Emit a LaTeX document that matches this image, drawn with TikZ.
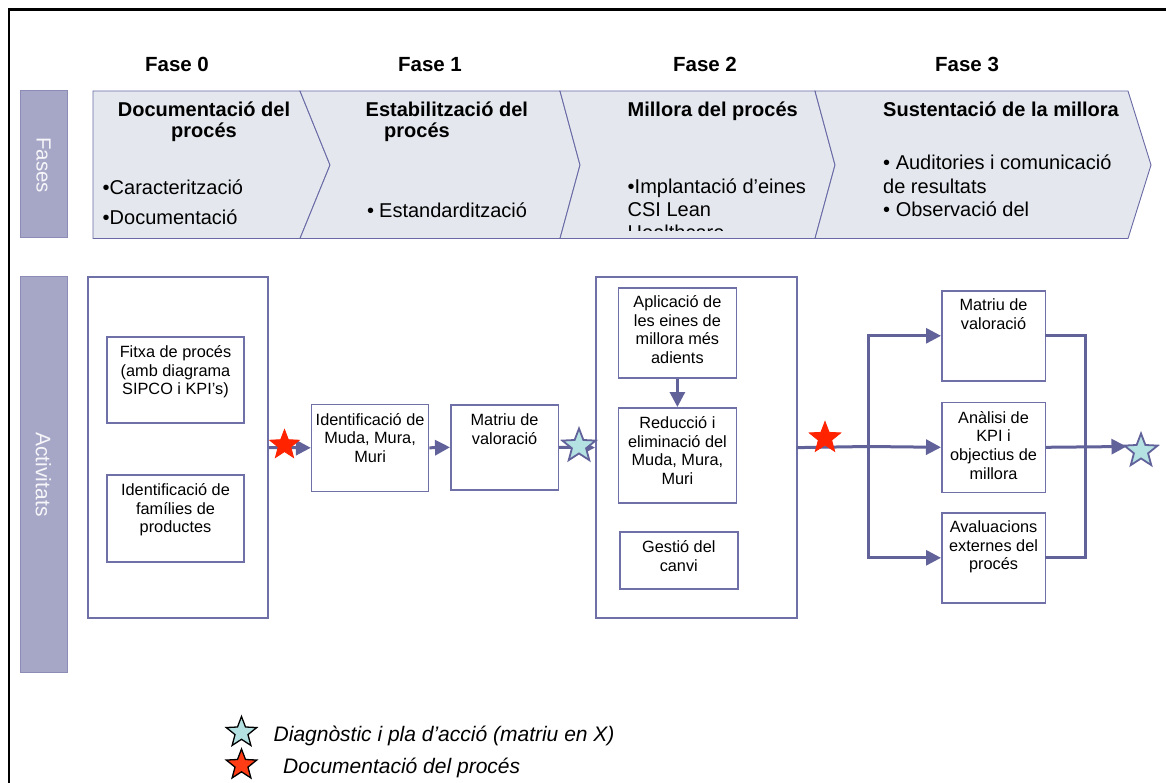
\documentclass[tikz,border=0pt]{standalone}
\usepackage{fontspec}
\setmainfont{Liberation Sans}
\usetikzlibrary{arrows.meta,shapes.geometric}
\definecolor{chevfill}{RGB}{228,232,238}
\definecolor{chevline}{RGB}{105,105,165}
\definecolor{lineblue}{RGB}{98,98,155}
\definecolor{boxline}{RGB}{112,112,168}
\definecolor{barfill}{RGB}{166,166,198}
\definecolor{barline}{RGB}{140,140,182}
\definecolor{bartext}{RGB}{246,246,250}
\definecolor{starblue}{RGB}{180,225,226}
\definecolor{starred}{RGB}{255,35,0}
\definecolor{legred}{RGB}{255,60,20}
\begin{document}
\begin{tikzpicture}[x=1pt,y=-1pt,
  box/.style={draw=boxline, line width=1.6pt, fill=white, inner sep=0pt, anchor=north west},
  bigbox/.style={draw=boxline, line width=2.2pt, inner sep=0pt, anchor=north west},
  btext/.style={font=\fontsize{16.3}{18.6}\selectfont, align=center, inner sep=0pt, anchor=north},
  chev/.style={draw=chevline, line width=0.9pt, fill=chevfill},
  bar/.style={draw=barline, line width=1pt, fill=barfill},
  bartxt/.style={rotate=-90, text=bartext, inner sep=0pt},
  fasetxt/.style={font=\fontsize{20.5}{24}\selectfont\bfseries, anchor=base, inner sep=0pt},
  titletxt/.style={font=\fontsize{20}{24}\selectfont\bfseries, anchor=base west, inner sep=0pt},
  bultxt/.style={font=\fontsize{20}{24}\selectfont, anchor=base west, inner sep=0pt},
  conn/.style={draw=lineblue, line width=3pt, line cap=rect},
  arr/.style={draw=lineblue, line width=3pt, -{Triangle[length=15pt,width=15pt]}},
  bluestar/.style={star, star points=5, star point ratio=2.35, minimum size=35pt, inner sep=0pt, fill=starblue, draw=lineblue, line width=1.8pt},
  redstar/.style={star, star points=5, star point ratio=2.35, minimum size=31pt, inner sep=0pt, fill=starred, draw=starred, line width=0.8pt},
  legtxt/.style={font=\fontsize{21}{24}\selectfont\itshape, anchor=base west, inner sep=0pt}
]
\useasboundingbox (0,0) rectangle (1166,783);
\fill[white] (0,0) rectangle (1166,783);
% outer frame (cut by the page)
\draw[line width=2.6pt] (9,800) -- (9,9.5) -- (1180,9.5);

% phase headings
\node[fasetxt] (f0) at (177,72) {Fase 0};
\node[fasetxt] (f1) at (430,72) {Fase 1};
\node[fasetxt] (f2) at (705,72) {Fase 2};
\node[fasetxt] (f3) at (967,72) {Fase 3};

% side bars
\draw[bar] (20,91) rectangle (67,238);
\node[bartxt, font=\fontsize{20.5}{24}\selectfont] (fases) at (43.5,165) {Fases};
\draw[bar] (20,277) rectangle (67,672);
\node[bartxt, font=\fontsize{21}{24}\selectfont] (activ) at (43.5,474.5) {Activitats};

% chevrons
\draw[chev] (93,91) -- (300,91) -- (330,165) -- (300,238.5) -- (93,238.5) -- cycle;
\draw[chev] (300,91) -- (560,91) -- (580,165) -- (560,238.5) -- (300,238.5) -- (330,165) -- cycle;
\draw[chev] (560,91) -- (815,91) -- (835,165) -- (815,238.5) -- (560,238.5) -- (580,165) -- cycle;
\draw[chev] (815,91) -- (1128,91) -- (1151,165) -- (1128,238.5) -- (815,238.5) -- (835,165) -- cycle;

% chevron titles
\node[titletxt, anchor=base] (t0a) at (204,117) {Documentació del};
\node[titletxt, anchor=base] (t0b) at (204,138) {procés};
\node[titletxt] (t1a) at (365.5,117) {Estabilització del};
\node[titletxt] (t1b) at (384,138) {procés};
\node[titletxt] (t2) at (627.5,117) {Millora del procés};
\node[titletxt] (t3) at (883,117) {Sustentació de la millora};

% chevron bullets (clipped at the bottom like the text boxes)
\begin{scope}
\clip (90,91) rectangle (1160,231);
\node[bultxt] (b0a) at (102.5,195) {•Caracterització};
\node[bultxt] (b0b) at (102.5,225) {•Documentació};
\node[bultxt] (b1a) at (367,218) {•\hspace{5pt}Estandardització};
\node[bultxt] (b2a) at (627.5,194) {•Implantació d’eines};
\node[bultxt] (b2b) at (627.5,216.5) {CSI Lean};
\node[bultxt] (b2c) at (627.5,240) {Healthcare};
\node[bultxt] (b3a) at (883,170) {• Auditories i comunicació};
\node[bultxt] (b3b) at (883,193.5) {de resultats};
\node[bultxt] (b3c) at (883,216.5) {• Observació del};
\end{scope}

% activity boxes
\node[bigbox, minimum width=180.2pt, minimum height=341pt] (big1) at (86.5,276) {};
\node[box, minimum width=137.4pt, minimum height=86pt] (fitxa) at (106,336) {};
\node[btext] at ([yshift=-8.5pt]fitxa.north) {\rule{0pt}{13pt}Fitxa de procés\\(amb diagrama\\SIPCO i KPI’s)};
\node[box, minimum width=137.4pt, minimum height=87pt] (fam) at (106,474) {};
\node[btext] at ([yshift=-8.5pt]fam.north) {\rule{0pt}{13pt}Identificació de\\famílies de\\productes};

\node[box, minimum width=117pt, minimum height=87pt] (muda) at (310.8,403.5) {};
\node[btext] at ([yshift=-8.5pt]muda.north) {\rule{0pt}{13pt}Identificació de\\Muda, Mura,\\Muri};
\node[box, minimum width=107.6pt, minimum height=85pt] (mat1) at (450,404) {};
\node[btext] at ([yshift=-8.5pt]mat1.north) {\rule{0pt}{13pt}Matriu de\\valoració};

\node[bigbox, minimum width=201pt, minimum height=341pt] (big2) at (595,276) {};
\node[box, minimum width=117.8pt, minimum height=90pt] (aplic) at (617.7,287) {};
\node[btext] at ([yshift=-7.5pt]aplic.north) {\rule{0pt}{13pt}Aplicació de\\les eines de\\millora més\\adients};
\node[box, minimum width=117.8pt, minimum height=95pt] (reduc) at (617.7,407) {};
\node[btext] at ([yshift=-8.5pt]reduc.north) {\rule{0pt}{13pt}Reducció i\\eliminació del\\Muda, Mura,\\Muri};
\node[box, minimum width=118pt, minimum height=57pt] (gestio) at (619,531) {};
\node[btext] at ([yshift=-8.5pt]gestio.north) {\rule{0pt}{13pt}Gestió del\\canvi};

\node[box, minimum width=103.5pt, minimum height=90pt] (mat2) at (941,290) {};
\node[btext] at ([yshift=-7.5pt]mat2.north) {\rule{0pt}{13pt}Matriu de\\valoració};
\node[box, minimum width=103.5pt, minimum height=90pt] (anal) at (941,401.5) {};
\node[btext] at ([yshift=-8.5pt]anal.north) {\rule{0pt}{13pt}Anàlisi de\\KPI i\\objectius de\\millora};
\node[box, minimum width=103.5pt, minimum height=90pt] (aval) at (941,512) {};
\node[btext] at ([yshift=-7.5pt]aval.north) {\rule{0pt}{13pt}Avaluacions\\externes del\\procés};

% connectors
\draw[arr] (big1.east) -- (muda.west);
\draw[arr] (muda.east) -- (mat1.west);
\draw[arr] (mat1.east) -- (big2.west);
\draw[arr] (aplic.south) -- (reduc.north);
\coordinate (split) at (868,446.5);
\coordinate (merge) at (1085.5,446.5);
\coordinate (endpt) at (1126.5,446.5);
\draw[conn] (big2.east) -- (split);
\draw[conn] (split |- mat2.west) -- (split |- aval.west);
\draw[arr] (split) -- (anal.west);
\draw[arr] (split |- mat2.west) -- (mat2.west);
\draw[arr] (split |- aval.west) -- (aval.west);
\draw[conn, line join=miter] (mat2.east) -- (merge |- mat2.east) -- (merge |- aval.east) -- (aval.east);
\draw[arr] (anal.east) -- (endpt);

% stars on connectors
\node[redstar] (rs1) at (284.5,445) {};
\node[bluestar] (bs1) at (579,446) {};
\node[redstar, minimum size=33pt] (rs2) at (825,438) {};
\node[bluestar] (bs2) at (1141,451) {};

% legend
\node[bluestar, draw=black, line width=1.3pt, minimum size=32pt] (lbs) at (241.5,732.5) {};
\node[legtxt] (leg1) at (273.5,741.5) {Diagnòstic i pla d’acció (matriu en X)};
\node[star, star points=5, star point ratio=2.35, minimum size=32pt, inner sep=0pt, fill=legred, draw=black, line width=1.3pt] (lrs) at (241.5,765) {};
\node[legtxt] (leg2) at (283,773) {Documentació del procés};
\end{tikzpicture}
\end{document}
